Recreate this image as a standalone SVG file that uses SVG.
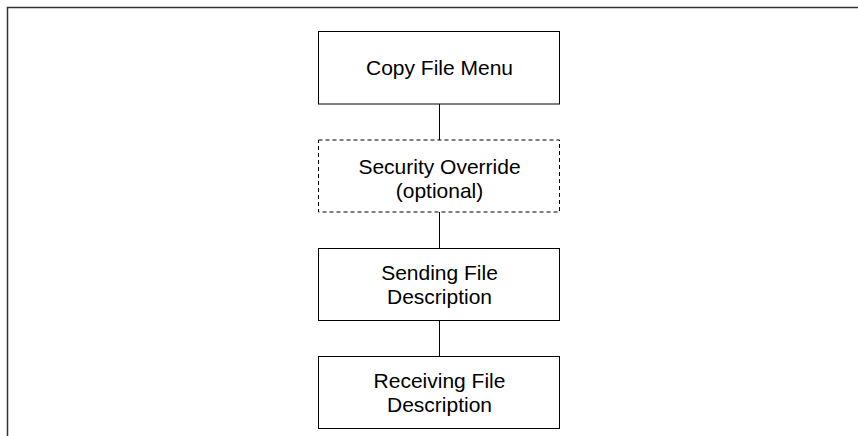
<svg xmlns="http://www.w3.org/2000/svg" width="858" height="436" viewBox="0 0 858 436">
<style>
.box{fill:#fff;stroke:#000;stroke-width:1}
.dash{stroke-dasharray:4,3}
.lbl{font-family:"Liberation Sans",Arial,sans-serif;font-size:21px;fill:#000;text-anchor:middle}
.conn{stroke:#000;stroke-width:1;fill:none}
.frame{stroke:#333;stroke-width:1.5;fill:none}
</style>
<rect width="858" height="436" fill="#fff"/>
<path class="frame" d="M7.5,440 V7.5 H862"/>
<g id="connectors">
<line class="conn" x1="439.5" y1="104" x2="439.5" y2="140"/>
<line class="conn" x1="439.5" y1="212" x2="439.5" y2="248.5"/>
<line class="conn" x1="439.5" y1="320.5" x2="439.5" y2="356.5"/>
</g>
<g id="copy-file-menu">
<rect class="box" x="318.5" y="31.5" width="241" height="72.5"/>
<text class="lbl" x="439.5" y="75">Copy File Menu</text>
</g>
<g id="security-override">
<rect class="box dash" x="318.5" y="140" width="241" height="72"/>
<text class="lbl" x="439.5" y="174">Security Override</text>
<text class="lbl" x="439.5" y="197.5">(optional)</text>
</g>
<g id="sending-file-description">
<rect class="box" x="318.5" y="248.5" width="241" height="72"/>
<text class="lbl" x="439.5" y="280">Sending File</text>
<text class="lbl" x="439.5" y="303.5">Description</text>
</g>
<g id="receiving-file-description">
<rect class="box" x="318.5" y="356.5" width="241" height="72"/>
<text class="lbl" x="439.5" y="388">Receiving File</text>
<text class="lbl" x="439.5" y="411.5">Description</text>
</g>
</svg>
